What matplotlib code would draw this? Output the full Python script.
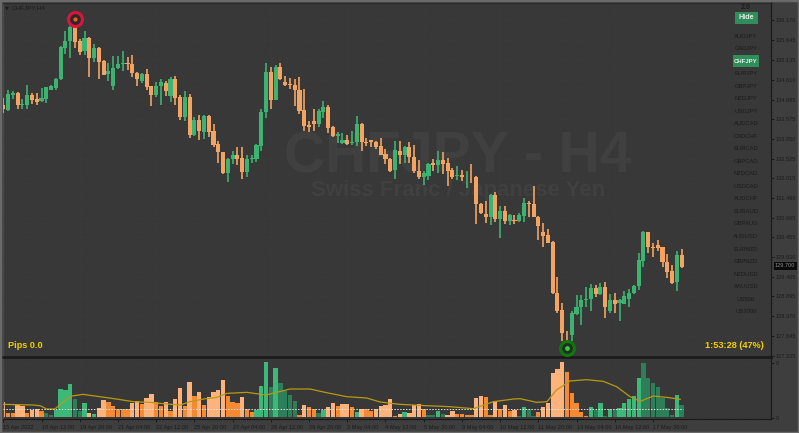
import matplotlib
matplotlib.use('Agg')
import matplotlib.pyplot as plt
from matplotlib.patches import Rectangle

plt.rcParams['font.family'] = ['Liberation Sans', 'DejaVu Sans']

opens = [133.94,133.81,134.21,134.25,133.93,133.93,134.21,134.10,134.04,134.09,
         134.35,134.39,134.64,135.45,135.62,135.99,135.62,135.37,135.71,135.18,
         135.44,135.09,134.76,134.44,134.92,135.02,135.06,135.02,134.79,134.57,
         134.76,134.44,134.20,134.43,134.53,134.19,134.62,134.14,133.62,134.16,
         133.15,133.55,133.23,133.65,133.26,132.91,132.70,132.16,132.51,132.62,
         132.54,132.18,132.51,132.52,132.87,133.76,134.80,134.07,134.95,134.54,
         134.50,134.46,134.35,133.80,133.41,133.53,133.44,133.76,133.90,133.35,
         133.13,132.93,133.03,132.93,132.96,133.44,132.98,133.01,132.97,132.85,
         132.65,132.53,132.23,132.74,132.62,132.84,132.58,132.21,132.05,132.07,
         132.41,132.36,132.49,132.41,132.23,132.07,132.09,132.04,132.05,132.04,
         131.33,131.07,130.98,131.57,130.95,131.14,130.88,130.91,130.89,131.02,
         131.37,131.33,131.00,130.59,130.51,130.33,129.00,128.54,127.66,127.89,
         128.43,128.63,128.79,128.82,129.11,128.96,129.15,128.52,128.79,128.73,
         128.71,128.82,128.98,129.17,129.84,130.60,130.21,130.24,130.19,129.80,
         129.56,129.27,129.98]
closes = [133.85,134.22,134.25,133.94,133.96,134.21,134.07,134.02,134.12,134.41,
          134.44,134.64,135.48,135.62,135.99,135.60,135.35,135.71,135.18,135.44,
          135.08,134.74,134.84,134.93,135.02,135.06,135.02,134.78,134.64,134.76,
          134.41,134.21,134.44,134.54,134.32,134.63,134.12,133.62,134.16,133.16,
          133.54,133.25,133.65,133.24,132.89,132.70,132.14,132.51,132.62,132.53,
          132.18,132.51,132.55,132.89,133.77,134.80,134.07,134.95,134.62,134.46,
          134.46,134.34,133.78,133.39,133.37,133.44,133.79,133.90,133.33,133.13,
          133.19,133.02,132.91,132.97,133.44,132.97,132.94,132.97,132.83,132.63,
          132.51,132.21,132.76,132.62,132.84,132.56,132.19,132.05,132.16,132.39,
          132.37,132.49,132.38,132.21,132.04,132.10,132.04,132.05,132.04,131.32,
          131.09,131.00,131.57,130.95,131.14,130.88,131.03,130.89,131.04,131.35,
          131.33,131.00,130.75,130.49,130.31,128.98,128.52,127.94,127.59,128.45,
          128.63,128.80,128.84,129.11,128.96,129.15,128.63,128.79,128.71,128.79,
          128.91,128.98,129.17,129.86,130.60,130.21,130.17,130.17,129.80,129.54,
          129.26,129.99,129.68]
highs = [134.12,134.35,134.32,134.29,134.09,134.46,134.25,134.25,134.39,134.41,
         134.46,134.65,135.50,135.88,136.02,136.23,135.69,135.88,135.74,135.55,
         135.48,135.13,135.06,135.24,135.23,135.37,135.22,135.26,134.82,134.78,
         134.88,134.44,134.56,134.62,134.58,134.67,134.71,134.21,134.30,134.23,
         133.63,133.68,133.68,133.68,133.44,133.00,132.71,132.54,132.74,132.84,
         132.84,132.62,132.62,132.91,133.85,135.04,134.94,134.99,135.06,134.71,
         134.65,134.62,134.69,134.36,133.53,133.85,133.83,134.06,133.95,133.38,
         133.22,133.21,133.14,133.25,133.65,133.46,133.07,133.02,132.99,133.06,
         132.78,132.54,132.99,132.99,132.87,132.96,132.90,132.49,132.21,132.41,
         132.51,132.72,132.70,132.54,132.27,132.33,132.23,132.19,132.39,132.07,
         131.35,131.42,131.60,131.64,131.28,131.28,131.07,131.04,131.10,131.48,
         131.42,131.81,131.01,130.84,130.68,130.35,129.40,128.72,127.98,128.52,
         128.93,128.93,129.15,129.22,129.20,129.26,129.28,128.96,128.98,128.82,
         129.03,129.10,129.19,130.03,130.61,130.60,130.30,130.38,130.21,130.01,
         129.73,130.10,130.14]
lows = [133.74,133.79,134.11,133.83,133.83,133.85,133.96,133.95,134.02,134.00,
        134.34,134.35,134.60,135.29,135.19,135.44,135.27,135.26,134.67,135.07,
        134.64,134.72,134.57,134.35,134.89,134.85,134.86,134.69,134.43,134.53,
        134.34,133.92,134.16,133.93,134.18,134.02,133.94,133.55,133.53,133.06,
        133.12,133.02,133.05,133.09,132.84,132.42,132.12,131.91,132.40,132.35,
        132.00,132.05,132.42,132.44,132.74,133.61,133.85,134.07,134.60,134.43,
        134.36,133.92,133.70,133.27,133.23,133.26,133.37,133.60,133.20,133.11,
        132.95,132.91,132.90,132.88,132.85,132.74,132.86,132.83,132.78,132.62,
        132.39,132.18,132.00,132.39,132.41,132.41,132.15,131.98,131.84,131.97,
        132.19,132.16,132.12,131.82,132.00,131.97,131.93,131.75,131.88,130.81,
        131.06,130.82,130.79,130.86,130.43,130.81,130.77,130.81,130.87,130.87,
        131.00,130.98,130.38,130.19,130.30,128.96,128.47,127.71,127.49,127.73,
        128.40,128.14,128.61,128.52,128.87,128.94,128.33,128.47,128.47,128.26,
        128.70,128.61,128.96,129.07,129.68,130.05,129.93,130.10,129.66,129.37,
        129.22,129.03,129.65]

volumes = [44,12,10,35,33,10,20,23,17,10,5,20,82,80,97,52,18,42,10,8,
           27,50,43,32,23,22,22,40,48,37,57,68,43,32,44,18,52,85,33,105,
           62,75,34,58,75,80,110,63,44,40,58,22,15,20,92,163,88,145,102,78,
           65,48,4,35,30,22,10,20,30,40,32,39,39,30,15,24,22,18,22,33,
           35,52,2,9,13,10,35,39,24,5,5,16,8,6,16,8,8,5,4,55,
           62,58,4,48,23,35,16,20,2,29,24,2,14,29,40,130,142,164,135,70,
           40,15,2,30,20,40,2,22,22,25,40,52,63,115,161,115,100,90,55,27,
           5,64,35]
# P pale orange, O orange, G bright green, D dark green
vol_kinds = list('POOPPOPPOD'
                 'DGGGGDDGPG'
                 'PPOOOOOPPO'
                 'PPOOPOPPOP'
                 'OPOPPPPOOO'
                 'POOGGGDGDD'
                 'DDOPOODGPP'
                 'OPPOGPOOPP'
                 'PPOPGPPPOD'
                 'DGDPPOOOOP'
                 'POOPOPOPDG'
                 'DDOPPPPPOO'
                 'OOOGDGDGDG'
                 'GGGGDDDDDD'
                 'DGD')

ma_bars = [0,6.3,7.7,9.1,10.8,12.6,14.3,16.7,20.2,23.7,27.2,30.7,34.2,37,39.1,41.9,44.7,46.8,51,55,
           60,64.2,67.7,71.9,76.1,78.9,83,88.6,93.5,98.4,102.6,106.8,108.2,111.7,113.8,115.8,118.6,
           122.1,125.6,128.4,131.2,133.3,136.1,138.9,141.7]
ma_vals = [37,35,33,23,23,45,62,67,60,53,45,43,38,35,45,53,58,70,73,65,
           83,83,72,60,56,44,37,33,30,24,45,53,54,43,45,80,107,
           111,106,90,60,46,62,58,52]
vol_level = 22

price_ticks = [136.170,135.645,135.135,134.610,134.085,133.575,133.050,132.525,132.015,
               131.490,130.965,130.455,129.930,129.405,128.895,128.370,127.845,127.335]
time_labels = ['15 Apr 2022','18 Apr 12:00','19 Apr 20:00','21 Apr 04:00','22 Apr 12:00','25 Apr 20:00',
               '27 Apr 04:00','28 Apr 12:00','29 Apr 20:00','3 May 04:00','4 May 12:00','5 May 20:00',
               '9 May 04:00','10 May 12:00','11 May 20:00','13 May 04:00','16 May 12:00','17 May 20:00']
symbols = ['AUDJPY','CADJPY','CHFJPY','EURJPY','GBPJPY','NZDJPY','USDJPY','AUDCAD','CADCHF','EURCAD',
           'GBPCAD','NZDCAD','USDCAD','AUDCHF','EURAUD','GBPAUD','AUDUSD','EURNZD','GBPNZD','NZDUSD',
           'XAUUSD','US500','US2000']
current_price = 129.700
peak_bar, peak_price = 15, 136.21
trough_bar, trough_price = 118, 127.53

W, H = 799, 433
GREEN = '#3cb371'
ORANGE = '#f4a460'
BG = '#383838'
DARK = '#1b1b1b'
VOL_COLORS = {'P': '#ffb27a', 'O': '#f58a35', 'G': '#3cb878', 'D': '#2c7f58'}


def fx(x):
    return x / W


def fy(y):
    return 1 - y / H


def box(x0, y0, x1, y1):
    return [fx(x0), fy(y1), fx(x1) - fx(x0), fy(y0) - fy(y1)]


fig = plt.figure(figsize=(W / 100, H / 100), dpi=100, facecolor='#3e3e3e')
fig.patches.append(Rectangle((0, 0), 1, 1, transform=fig.transFigure, fill=False, ec='#6a6a6a', lw=2.5))

ax = fig.add_axes(box(2.5, 2.5, 770.5, 357), facecolor=BG)
vol = fig.add_axes(box(2.5, 359, 770.5, 419), facecolor=BG)

bars = list(range(len(opens)))
colors = [GREEN if c > o else ORANGE for o, c in zip(opens, closes)]

ax.vlines(bars, lows, highs, colors=colors, lw=1.2, zorder=3)
ax.bar(bars, [abs(c - o) for o, c in zip(opens, closes)], bottom=[min(o, c) for o, c in zip(opens, closes)],
       width=0.86, color=colors, zorder=3)

ax.set_xlim(-0.17, 160.6)
ax.set_ylim(127.30, 136.644)
ax.yaxis.tick_right()
ax.set_yticks(price_ticks)
ax.set_yticklabels(['%.3f' % p for p in price_ticks])
ax.set_xticks(range(0, 137, 8))
ax.tick_params(axis='x', length=0, labelbottom=False)
ax.tick_params(axis='y', length=2, width=0.7, color=DARK, labelcolor=DARK, labelsize=4.1, pad=1.5)
ax.grid(True, ls=':', lw=0.4, color='#414141', zorder=0)
ax.set_axisbelow(True)

# watermark
ax.text(0.593, 0.563, 'CHFJPY - H4', transform=ax.transAxes, ha='center', va='center',
        fontsize=41, fontweight='bold', color='#404040', zorder=1)
ax.text(0.593, 0.469, 'Swiss Franc / Japanese Yen', transform=ax.transAxes, ha='center', va='center',
        fontsize=16, fontweight='bold', color='#404040', zorder=1)

# high / low markers
ax.plot([peak_bar], [peak_price], 'o', ms=10, mfc='#2a2a2a', mec='#dc143c', mew=2.2, zorder=5)
ax.plot([peak_bar], [peak_price], 'o', ms=2, color='#ff5a1e', zorder=6)
ax.plot([trough_bar], [trough_price], 'o', ms=10, mfc='#2a2a2a', mec='#0b7a0b', mew=2.2, zorder=5)
ax.plot([trough_bar], [trough_price], 'o', ms=2.4, color='#1fe01f', zorder=6)

for s in ax.spines.values():
    s.set_color(DARK)
    s.set_linewidth(0.9)
ax.spines['bottom'].set_linewidth(2)
ax.spines['left'].set_color('#4a4a4a')
ax.spines['top'].set_color('#2a2a2a')

# volume pane
vol.bar(bars, volumes, width=0.9, color=[VOL_COLORS[k] for k in vol_kinds], zorder=2)
vol.plot(ma_bars, ma_vals, color='#b89a12', lw=0.9, zorder=3)
vol.axhline(vol_level, xmax=142.5 / 160.8, color='#e4e4e4', ls=(0, (1.5, 1.5)), lw=0.7, zorder=4)
vol.set_xlim(-0.17, 160.6)
vol.set_ylim(-6.9, 173)
vol.yaxis.tick_right()
vol.set_yticks([-4, 162])
vol.set_yticklabels(['0', '0'])
vol.tick_params(axis='y', length=2, width=0.7, color=DARK, labelcolor=DARK, labelsize=4.1, pad=1.5)
vol.set_xticks(range(0, 137, 8))
vol.set_xticklabels(time_labels, ha='left')
vol.tick_params(axis='x', length=2.5, width=0.7, color=DARK, labelcolor=DARK, labelsize=4.1, pad=1.5)
vol.grid(True, ls=':', lw=0.4, color='#414141', zorder=0)
vol.set_axisbelow(True)
for s in vol.spines.values():
    s.set_color(DARK)
    s.set_linewidth(0.9)
vol.spines['top'].set_visible(False)
vol.spines['left'].set_color('#4a4a4a')

# overlay text and buttons
fig.text(fx(12), fy(7.5), 'CHFJPY,H4', fontsize=4.6, color=DARK, va='center')
fig.text(fx(6.5), fy(7.5), '\u25bc', fontsize=3.5, color=DARK, va='center', ha='center', family='DejaVu Sans')
fig.text(fx(8), fy(345), 'Pips 0.0', fontsize=6.6, fontweight='bold', color='#f2cf00', va='center')
fig.text(fx(764), fy(345), '1:53:28 (47%)', fontsize=6.6, fontweight='bold', color='#f2cf00', va='center', ha='right')
fig.text(fx(746), fy(7.5), '2.0', fontsize=5, fontweight='bold', color=DARK, va='center', ha='center')

fig.patches.append(Rectangle((fx(735), fy(23.5)), fx(23), fy(12) - fy(23.5), transform=fig.transFigure,
                             fc='#2f8f5b', ec='none'))
fig.text(fx(746.5), fy(17.8), 'Hide', fontsize=5.2, fontweight='bold', color='#e8e8e8', va='center', ha='center')

for i, name in enumerate(symbols):
    y = 36 + 12.53 * i
    if name == 'CHFJPY':
        fig.patches.append(Rectangle((fx(733), fy(y + 5.7)), fx(26), fy(y - 5.7) - fy(y + 5.7),
                                     transform=fig.transFigure, fc='#2f8f5b', ec='none'))
        fig.text(fx(746), fy(y), name, fontsize=4.3, fontweight='bold', color='#e8e8e8', va='center', ha='center')
    else:
        fig.text(fx(746), fy(y), name, fontsize=4.2, color=DARK, va='center', ha='center')

# current price box
ax.annotate('%.3f' % current_price, xy=(1, current_price), xycoords=('axes fraction', 'data'),
            xytext=(3.2, 0), textcoords='offset points', va='center', ha='left', fontsize=4.1, color='#8a8a8a',
            bbox=dict(fc='#0a0a0a', ec='none', pad=0.9), annotation_clip=False)

fig.savefig('out.png', dpi=100, facecolor=fig.get_facecolor())
